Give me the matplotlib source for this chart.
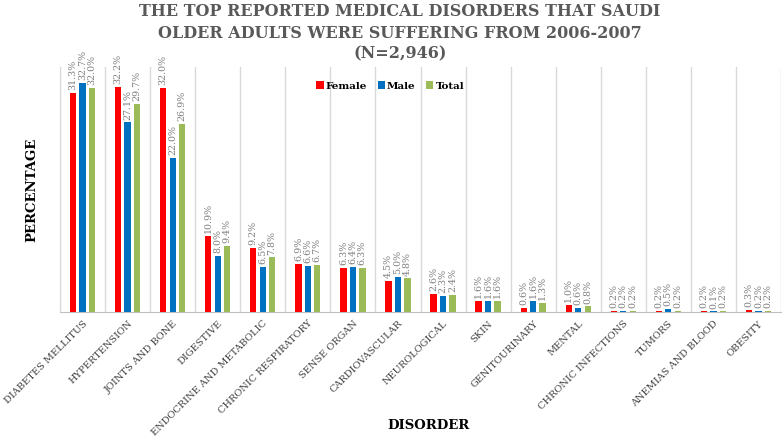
import matplotlib
matplotlib.use("Agg")
import matplotlib.pyplot as plt
import numpy as np

categories = ["DIABETES MELLITUS", "HYPERTENSION", "JOINTS AND BONE", "DIGESTIVE",
              "ENDOCRINE AND METABOLIC", "CHRONIC RESPIRATORY", "SENSE ORGAN",
              "CARDIOVASCULAR", "NEUROLOGICAL", "SKIN", "GENITOURINARY", "MENTAL",
              "CHRONIC INFECTIONS", "TUMORS", "ANEMIAS AND BLOOD", "OBESITY"]
female = [31.3, 32.2, 32.0, 10.9, 9.2, 6.9, 6.3, 4.5, 2.6, 1.6, 0.6, 1.0, 0.2, 0.2, 0.2, 0.3]
male = [32.7, 27.1, 22.0, 8.0, 6.5, 6.6, 6.4, 5.0, 2.3, 1.6, 1.6, 0.6, 0.2, 0.5, 0.1, 0.2]
total = [32.0, 29.7, 26.9, 9.4, 7.8, 6.7, 6.3, 4.8, 2.4, 1.6, 1.3, 0.8, 0.2, 0.2, 0.2, 0.2]
series_names = ["Female", "Male", "Total"]
colors = ["#FF0000", "#0070C0", "#9BBB59"]

title_lines = ["THE TOP REPORTED MEDICAL DISORDERS THAT SAUDI",
               "OLDER ADULTS WERE SUFFERING FROM 2006-2007",
               "(N=2,946)"]

fig = plt.figure(figsize=(7.84, 4.40), dpi=100)
ax = fig.add_axes([60/784, (440-312)/440, (781-60)/784, (312-67)/440])

x = np.arange(len(categories))
width = 0.14
offsets = [-0.21, 0.0, 0.21]
for vals, name, col, off in zip([female, male, total], series_names, colors, offsets):
    bars = ax.bar(x + off, vals, width=width, color=col, label=name, zorder=3)
    for b, v in zip(bars, vals):
        ax.annotate(f"{v:.1f}%", (b.get_x() + b.get_width()/2, b.get_height()),
                    xytext=(0, 2), textcoords="offset points", rotation=90,
                    ha="center", va="bottom", fontsize=6.8, color="#7F7F7F",
                    family="DejaVu Serif")

ax.set_xlim(-0.5, len(categories) - 0.5)
ax.set_ylim(0, 35)
ax.set_yticks([])
ax.set_xticks(x)
ax.set_xticklabels(categories, rotation=45, ha="right", va="top", rotation_mode="anchor",
                   fontsize=7, color="#404040", family="DejaVu Serif")
ax.tick_params(axis="x", length=0, pad=5)
ax.set_xticks(np.arange(-0.5, len(categories)), minor=True)
ax.tick_params(axis="x", which="minor", length=0)
ax.grid(True, which="minor", axis="x", color="#D9D9D9", linewidth=1, zorder=0)
for s in ["top", "right"]:
    ax.spines[s].set_visible(False)
ax.spines["left"].set_color("#D9D9D9")
ax.spines["bottom"].set_color("#BFBFBF")

leg = ax.legend(loc="center", bbox_to_anchor=(0.458, 0.922), ncol=3, frameon=False,
                handlelength=0.7, handleheight=0.7, handletextpad=0.2, columnspacing=1.0,
                prop={"family": "DejaVu Serif", "weight": "bold", "size": 7.5})

for line, ypx in zip(title_lines, [12, 33, 54]):
    fig.text(400/784, 1 - ypx/440, line, ha="center", va="center", fontsize=11.5,
             fontweight="bold", color="#595959", family="DejaVu Serif")
fig.text(32/784, 1 - 190/440, "PERCENTAGE", rotation=90, ha="center", va="center",
         fontsize=9.5, fontweight="bold", family="DejaVu Serif", color="black")
fig.text(428/784, 1 - 425/440, "DISORDER", ha="center", va="center",
         fontsize=9.5, fontweight="bold", family="DejaVu Serif", color="black")

fig.savefig("out.png", dpi=100)
